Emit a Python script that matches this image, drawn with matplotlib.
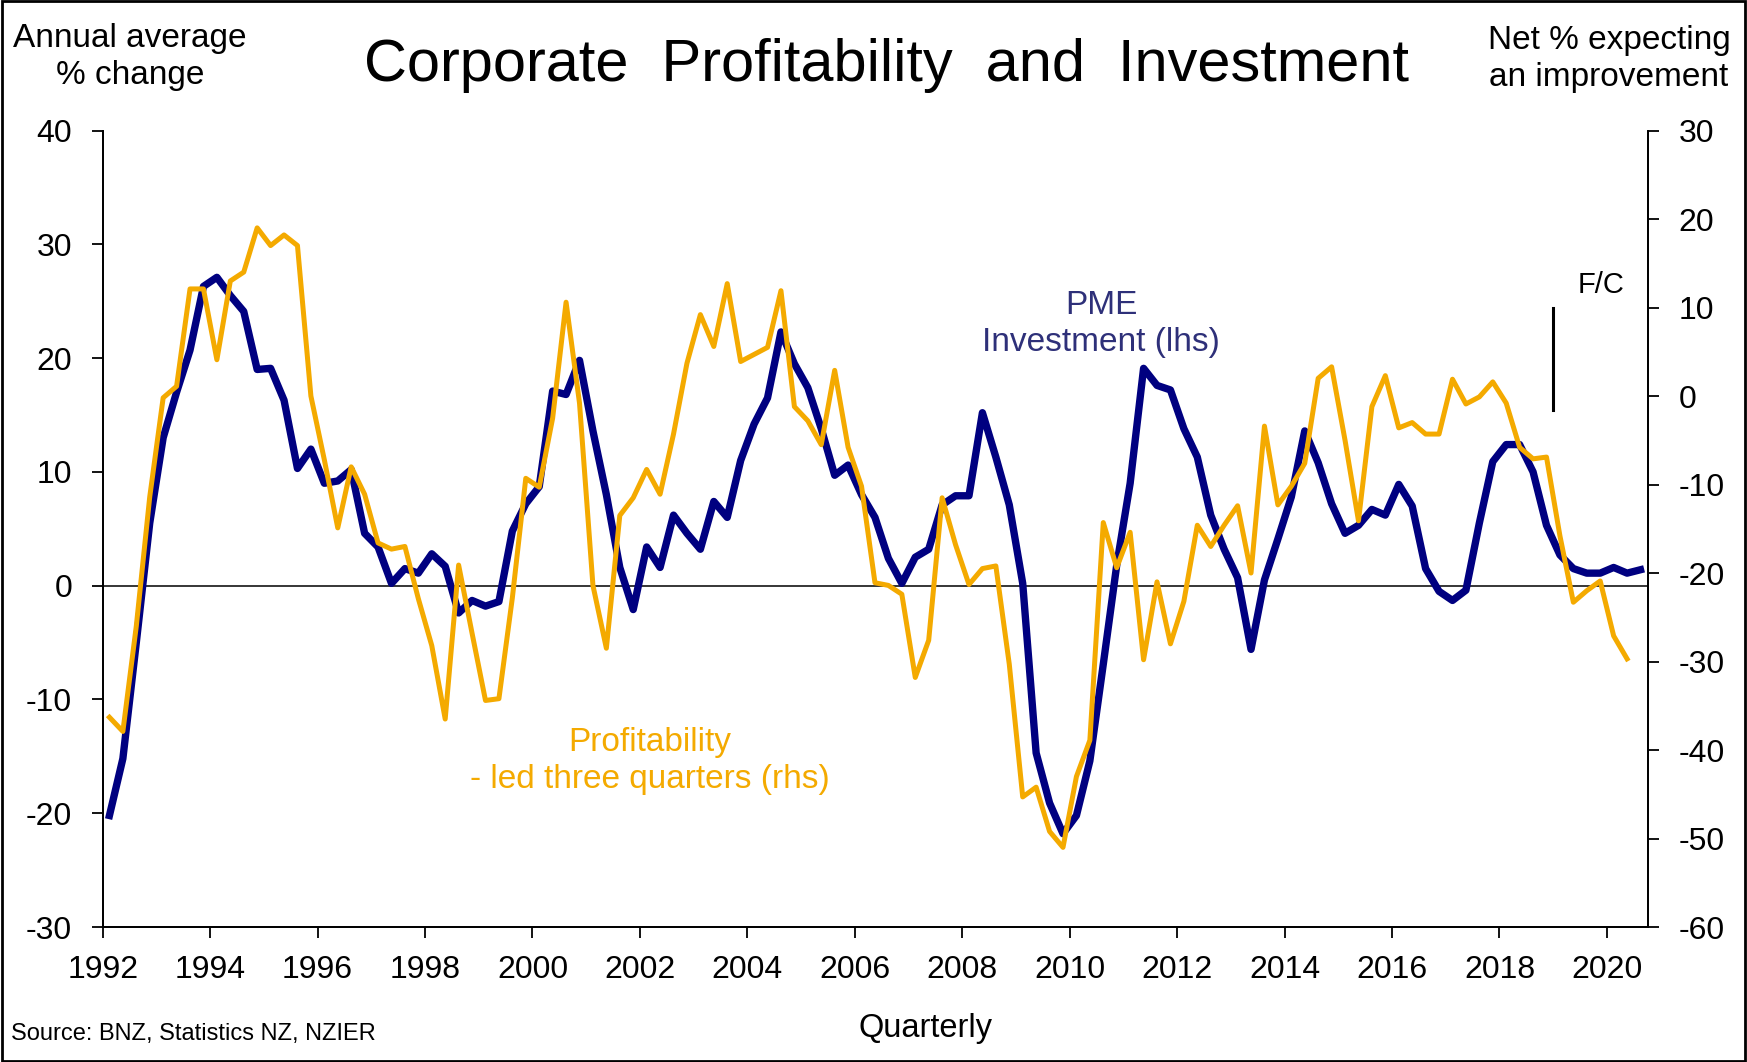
import numpy as np
import matplotlib
matplotlib.use("Agg")
import matplotlib.pyplot as plt
from matplotlib.patches import Rectangle

plt.rcParams['font.family'] = ['Liberation Sans', 'DejaVu Sans']
plt.rcParams['axes.unicode_minus'] = False

# PME investment, annual average % change (lhs), quarterly from 1992Q1
pme_investment = [
    -20.2, -15.2, -5.0, 5.5, 13.0, 17.0, 20.7, 26.3, 27.1, 25.5,
    24.1, 19.0, 19.1, 16.3, 10.3, 12.0, 9.0, 9.2, 10.2, 4.6,
    3.4, 0.2, 1.5, 1.1, 2.8, 1.7, -2.4, -1.3, -1.8, -1.4,
    4.8, 7.2, 8.7, 17.1, 16.8, 19.8, 13.6, 8.0, 1.6, -2.1,
    3.4, 1.6, 6.2, 4.6, 3.2, 7.4, 6.0, 11.0, 14.2, 16.5,
    22.3, 19.5, 17.4, 13.8, 9.7, 10.6, 8.0, 6.0, 2.4, 0.2,
    2.5, 3.2, 7.1, 7.9, 7.9, 15.2, 11.3, 7.1, 0.2, -14.7,
    -19.1, -21.8, -20.2, -15.4, -6.9, 1.8, 9.0, 19.1, 17.6, 17.2,
    13.8, 11.3, 6.2, 3.2, 0.7, -5.6, 0.5, 4.1, 7.8, 13.6,
    10.8, 7.2, 4.6, 5.3, 6.7, 6.2, 8.9, 7.0, 1.5, -0.5,
    -1.3, -0.4, 5.5, 10.9, 12.4, 12.4, 10.0, 5.3, 2.7, 1.5,
    1.1, 1.1, 1.6, 1.1, 1.4,
]

# Profitability, net % expecting an improvement, led three quarters (rhs)
profitability = [
    -36.3, -37.9, -26.0, -11.4, -0.2, 1.1, 12.1, 12.1, 4.1, 13.0,
    14.0, 19.0, 17.0, 18.2, 17.0, 0.0, -7.2, -14.9, -8.0, -11.1,
    -16.6, -17.3, -17.0, -22.9, -28.2, -36.5, -19.1, -26.8, -34.4, -34.2,
    -22.8, -9.3, -10.3, -2.5, 10.6, -0.8, -21.4, -28.5, -13.5, -11.5,
    -8.3, -11.1, -4.3, 3.7, 9.2, 5.6, 12.7, 3.9, 4.7, 5.5,
    11.9, -1.2, -2.8, -5.5, 2.9, -5.8, -10.2, -21.1, -21.4, -22.4,
    -31.8, -27.6, -11.5, -16.8, -21.3, -19.5, -19.2, -30.3, -45.3, -44.2,
    -49.2, -51.0, -43.0, -38.9, -14.3, -19.4, -15.4, -29.8, -21.0, -28.0,
    -23.2, -14.6, -17.0, -14.6, -12.4, -20.0, -3.4, -12.3, -10.2, -7.6,
    2.0, 3.3, -5.0, -14.1, -1.2, 2.3, -3.6, -3.0, -4.3, -4.3,
    1.9, -0.9, -0.1, 1.6, -0.8, -5.8, -7.1, -6.9, -15.8, -23.3,
    -22.0, -20.9, -27.1, -29.7,
]

year_ticks = list(range(1992, 2021, 2))
left_ticks = list(range(-30, 41, 10))
right_ticks = list(range(-60, 31, 10))

NAVY = '#000080'
ORANGE = '#F4AA00'

x_pme = 1992.125 + 0.25 * np.arange(len(pme_investment))
x_prof = 1992.125 + 0.25 * np.arange(len(profitability))

fig = plt.figure(figsize=(17.47, 10.62), dpi=100)
ax = fig.add_axes([0.0588, 0.1271, 0.8847, 0.75])
ax2 = ax.twinx()

ax.axhline(0, color='black', lw=1.1, zorder=1)
ax.plot(x_pme, pme_investment, color=NAVY, lw=5.3, solid_joinstyle='round', zorder=3)
ax2.plot(x_prof, profitability, color=ORANGE, lw=3.6, solid_joinstyle='round')

# forecast marker
ax2.plot([2019.0, 2019.0], [10, -1.6], color='black', lw=2.2)
ax2.text(2019.9, 12.6, 'F/C', fontsize=21, ha='center', va='center')

ax.set_xlim(1992, 2020.77)
ax.set_ylim(-30, 40)
ax2.set_ylim(-60, 30)
ax.set_xticks(year_ticks)
ax.set_yticks(left_ticks)
ax2.set_yticks(right_ticks)

for a in (ax, ax2):
    a.spines['top'].set_visible(False)
    for s in a.spines.values():
        s.set_linewidth(1.3)
ax.tick_params(axis='x', direction='out', length=8, width=1.3, labelsize=23, pad=12)
ax.tick_params(axis='y', direction='out', length=8, width=1.3, labelsize=23, pad=14)
ax2.tick_params(axis='y', direction='out', length=8, width=1.3, labelsize=23, pad=14)

ax.text(2010.59, 23.0, 'PME\nInvestment (lhs)', color='#2E3079', fontsize=24,
        ha='center', va='center', linespacing=1.25)
ax.text(2002.19, -15.4, 'Profitability\n- led three quarters (rhs)', color=ORANGE,
        fontsize=24, ha='center', va='center', linespacing=1.25)

fig.text(0.5077, 0.9385, 'Corporate  Profitability  and  Investment', fontsize=42.8,
         ha='center', va='center')
fig.text(0.0745, 0.9465, 'Annual average\n% change', fontsize=24, ha='center',
         va='center', linespacing=1.25)
fig.text(0.921, 0.9445, 'Net % expecting\nan improvement', fontsize=24, ha='center',
         va='center', linespacing=1.25)
fig.text(0.5295, 0.032, 'Quarterly', fontsize=23.5, ha='center', va='center')
fig.text(0.0063, 0.026, 'Source: BNZ, Statistics NZ, NZIER', fontsize=17,
         ha='left', va='center')

fig.patches.append(Rectangle((0.001, 0.001), 0.998, 0.998, transform=fig.transFigure,
                             fill=False, edgecolor='black', lw=2))

fig.savefig('out.png', dpi=100)
